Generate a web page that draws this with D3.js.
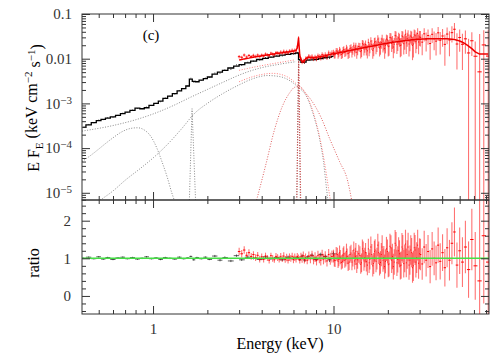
<!DOCTYPE html>
<html>
<head>
<meta charset="utf-8">
<script src="https://cdn.jsdelivr.net/npm/d3@7"></script>
<style>
  body { margin: 0; background: #fff; }
  svg { display: block; }
  text { font-family: "Liberation Serif", "DejaVu Serif", serif; }
</style>
</head>
<body>
<div id="chart"></div>
<script>
// soft instrument (black): bin centres, model, data/model ratio, ratio error
const blackE = [0.41,0.44,0.47,0.50,0.53,0.56,0.60,0.64,0.68,0.72,
  0.77,0.82,0.87,0.92,0.98,1.04,1.10,1.17,1.24,1.32,
  1.40,1.48,1.56,1.62,1.68,1.75,1.85,1.95,2.05,2.20,
  2.35,2.50,2.70,2.90,3.10,3.35,3.60,3.90,4.20,4.50,
  4.85,5.20,5.60,6.00,6.30,6.50,6.70,6.90,7.20,7.60,
  8.00,8.50,9.00,9.50,10.0];
const blackModel = [2.9e-4,3.3e-4,3.7e-4,4.1e-4,4.4e-4,4.7e-4,5.0e-4,5.4e-4,5.9e-4,6.4e-4,
  7.0e-4,7.8e-4,7.6e-4,8.0e-4,9.0e-4,1.0e-3,1.12e-3,1.3e-3,1.45e-3,1.65e-3,
  1.9e-3,2.15e-3,2.45e-3,3.5e-3,3.1e-3,3.05e-3,3.3e-3,3.6e-3,3.9e-3,4.5e-3,
  5.0e-3,5.5e-3,6.2e-3,6.8e-3,7.4e-3,8.1e-3,8.8e-3,9.6e-3,1.02e-2,1.08e-2,
  1.14e-2,1.2e-2,1.25e-2,1.3e-2,1.34e-2,9.5e-3,8.3e-3,8.4e-3,9.3e-3,9.4e-3,
  9.7e-3,1.01e-2,1.05e-2,1.09e-2,1.13e-2];
const blackRatio = [1.00,1.03,0.99,1.04,0.98,1.02,0.97,1.01,1.03,0.99,
  1.02,0.98,1.00,1.04,0.99,1.01,0.97,1.02,1.00,0.98,
  1.03,0.99,1.01,1.05,0.96,1.02,0.99,1.03,0.97,1.06,
  0.95,1.02,0.93,1.07,0.96,1.03,1.00,0.97,1.04,0.99,
  1.02,0.96,1.03,0.99,1.02,0.97,1.06,0.95,1.04,1.08,
  0.97,1.10,1.05,0.96,1.12];
const blackErr = [0.02,0.02,0.02,0.02,0.02,0.02,0.02,0.02,0.02,0.02,
  0.02,0.02,0.02,0.02,0.02,0.02,0.02,0.02,0.02,0.02,
  0.02,0.02,0.02,0.02,0.02,0.02,0.02,0.02,0.02,0.03,
  0.03,0.03,0.03,0.03,0.03,0.03,0.03,0.03,0.03,0.03,
  0.03,0.03,0.04,0.04,0.04,0.04,0.04,0.04,0.04,0.05,
  0.05,0.05,0.05,0.06,0.06];

// hard instrument (red)
const redE = [3.0,3.1,3.2,3.3,3.4,3.5,3.6,3.7,3.8,3.9,
  4.0,4.1,4.2,4.3,4.4,4.5,4.6,4.7,4.8,4.9,
  5.0,5.1,5.2,5.3,5.4,5.5,5.6,5.7,5.8,5.9,
  6.0,6.1,6.2,6.3,6.4,6.5,6.6,6.7,6.8,6.9,
  7.0,7.15,7.3,7.45,7.6,7.75,7.9,8.05,8.2,8.35,
  8.5,8.65,8.8,9.0,9.2,9.4,9.6,9.8,
  10.0,10.1,10.2,10.35,10.5,10.6,10.7,10.8,10.9,11.05,11.2,11.3,11.4,11.55,11.7,11.8,11.9,12.05,12.2,12.35,
  12.5,12.65,12.8,12.95,13.1,13.2,13.3,13.45,13.6,13.8,14.0,14.15,14.3,14.45,14.6,14.75,14.9,15.05,15.2,15.4,
  15.6,15.75,15.9,16.1,16.3,16.5,16.7,16.85,17.0,17.2,17.4,17.6,17.8,18.0,18.2,18.4,18.6,18.8,19.0,19.2,
  19.4,19.65,19.9,20.1,20.3,20.55,20.8,21.0,21.2,21.45,21.7,21.95,22.2,22.45,22.7,22.95,23.2,23.45,23.7,23.95,
  24.2,24.5,24.8,25.05,25.3,25.6,25.9,26.2,26.5,26.8,27.1,27.4,27.7,28.0,28.3,28.6,28.9,29.25,29.6,29.95,
  30.3,31.0,31.8,32.6,33.4,34.3,35.2,36.1,37.0,38.0,
  39.0,40.2,41.4,42.6,43.9,45.3,46.8,48.3,50.0,51.8,
  53.8,56.0,58.4,61.0,64.5,68.0,72.0];
const redModel = [.0094,.0096,.0099,.0101,.0103,.0106,.0108,.0110,.0112,.0114,
  .0116,.0118,.0120,.0121,.0123,.0125,.0127,.0128,.0130,.0132,
  .0133,.0135,.0136,.0138,.0139,.0141,.0142,.0144,.0145,.0147,
  .0148,.0150,.0153,.0175,.0290,.0120,.0095,.0085,.0085,.0091,
  .0099,.0107,.0108,.0106,.0105,.0105,.0106,.0108,.0109,.0111,
  .0112,.0114,.0115,.0117,.0120,.0122,.0124,.0127,
  .0129,.0130,.0131,.0133,.0134,.0135,.0136,.0137,.0138,.0140,.0141,.0142,.0143,.0145,.0146,.0147,.0148,.0150,.0151,.0153,
  .0154,.0156,.0157,.0159,.0160,.0161,.0162,.0164,.0165,.0167,.0169,.0171,.0172,.0174,.0175,.0177,.0178,.0180,.0181,.0183,
  .0185,.0187,.0188,.0190,.0191,.0193,.0195,.0197,.0198,.0200,.0201,.0203,.0205,.0207,.0208,.0210,.0212,.0214,.0215,.0217,
  .0218,.0220,.0222,.0224,.0225,.0227,.0229,.0231,.0232,.0234,.0235,.0237,.0238,.0240,.0241,.0243,.0244,.0246,.0247,.0249,
  .0250,.0252,.0253,.0255,.0256,.0258,.0259,.0260,.0261,.0263,.0264,.0265,.0266,.0267,.0268,.0269,.0270,.0271,.0272,.0273,
  .0274,.0276,.0277,.0278,.0279,.0280,.0281,.0281,.0281,.0281,
  .0281,.0280,.0279,.0278,.0276,.0273,.0268,.0260,.0248,.0233,
  .0214,.0192,.0168,.0142,.0127,.0127,.0127];
const redRatio = [1.18,1.12,1.22,1.08,1.15,1.05,1.10,1.02,1.08,0.98,
  1.04,0.97,1.06,1.01,0.95,1.07,1.00,0.96,1.05,1.02,
  0.98,1.04,0.99,1.06,0.97,1.02,0.95,1.03,1.00,1.05,
  0.97,1.03,0.98,1.05,1.02,0.96,1.04,0.99,1.07,0.97,
  1.02,0.95,1.06,0.99,1.08,0.96,1.03,0.94,1.07,1.00,
  0.95,1.09,0.98,1.04,0.93,1.10,0.99,1.05,
  1.06,0.95,0.94,1.12,1.10,0.92,0.97,1.15,1.03,0.89,0.92,1.08,1.12,0.95,0.98,1.18,1.05,0.87,0.90,1.10,
  1.14,0.90,1.00,1.22,0.93,1.05,1.18,0.85,0.96,1.12,1.08,0.84,0.88,1.25,1.20,0.93,1.02,1.15,0.91,0.82,
  1.25,0.88,0.97,1.30,1.10,0.80,0.86,1.18,1.22,0.92,0.99,1.35,1.15,0.84,0.89,1.10,1.30,0.95,1.02,0.78,
  0.92,1.25,1.18,0.83,0.85,1.32,1.28,0.95,1.05,0.78,0.90,1.40,1.35,0.88,0.97,1.20,1.12,0.80,0.82,1.30,
  1.25,0.86,1.00,1.38,0.88,1.10,1.30,0.82,0.95,1.22,1.15,0.75,0.80,1.28,1.22,0.90,1.02,1.35,0.87,1.12,
  1.10,0.85,1.30,0.95,1.18,0.78,1.25,1.00,0.88,1.35,
  0.92,1.15,0.75,1.28,0.95,1.40,1.70,0.82,1.20,0.90,
  1.30,0.70,1.50,0.80,0.40,1.60,0.90];
const redErr = [.10,.10,.10,.09,.09,.09,.09,.09,.09,.09,
  .09,.08,.09,.08,.09,.08,.09,.08,.09,.09,
  .09,.10,.09,.10,.09,.10,.09,.10,.09,.10,
  .10,.10,.09,.09,.08,.10,.11,.11,.11,.11,
  .11,.11,.12,.12,.12,.12,.13,.13,.13,.13,
  .14,.14,.14,.15,.15,.15,.16,.16,
  .17,.17,.17,.18,.18,.18,.18,.19,.19,.19,.19,.20,.20,.20,.20,.21,.21,.21,.21,.22,
  .22,.22,.22,.23,.23,.23,.23,.24,.24,.24,.24,.25,.25,.25,.25,.26,.26,.26,.26,.27,
  .27,.27,.27,.28,.28,.28,.28,.29,.29,.29,.29,.30,.30,.30,.30,.31,.31,.31,.31,.32,
  .32,.32,.32,.33,.33,.33,.33,.34,.34,.34,.34,.35,.35,.35,.35,.36,.36,.36,.36,.37,
  .37,.37,.37,.38,.38,.38,.38,.39,.39,.39,.39,.40,.40,.40,.40,.41,.41,.41,.41,.41,
  .42,.42,.43,.43,.44,.44,.45,.45,.46,.47,
  .48,.49,.50,.52,.54,.56,.65,.60,.62,.66,
  .70,.75,.82,.90,2.40,1.80,2.60];

// model components [keV, E F_E]
const compCont = [[0.404,2.4e-4],[0.6,3.2e-4],[0.8,4.3e-4],[1.0,5.8e-4],[1.3,9.0e-4],[1.6,1.35e-3],[2.0,2.05e-3],[2.5,3.1e-3],[3.0,4.3e-3],[3.5,5.4e-3],[4.0,6.3e-3],[5.0,7.5e-3],[6.2,8.6e-3]];
const compSoft = [[0.404,5.0e-5],[0.45,6.8e-5],[0.5,9.5e-5],[0.55,1.3e-4],[0.6,1.7e-4],[0.67,2.3e-4],[0.75,2.75e-4],[0.82,2.85e-4],[0.9,2.5e-4],[0.97,1.85e-4],[1.05,1.0e-4],[1.12,5.0e-5],[1.2,2.2e-5],[1.27,1.0e-5],[1.31,6.9e-6]];
const compHard = [[0.51,6.9e-6],[0.6,1.1e-5],[0.7,1.9e-5],[0.85,3.5e-5],[1.0,6.0e-5],[1.2,1.2e-4],[1.45,2.8e-4],[1.7,6.0e-4],[2.0,1.0e-3],[2.4,1.6e-3],[3.0,2.6e-3],[3.6,3.6e-3],[4.3,4.2e-3],[5.0,4.0e-3],[5.6,3.4e-3],[6.3,2.4e-3],[7.1,1.4e-3],[7.8,5.0e-4],[8.4,1.5e-4],[8.8,5.0e-5],[9.1,1.5e-5],[9.3,6.9e-6]];
const compSiLine = [[1.59,6.9e-6],[1.645,7.6e-4],[1.72,6.9e-6]];
const compFeLine = [[6.25,6.9e-6],[6.4,9.0e-3],[6.55,6.9e-6]];
const redCont = [[3.0,5.5e-3],[3.5,6.3e-3],[4.0,7.0e-3],[5.0,8.2e-3],[6.1,9.4e-3]];
const redHard = [[3.0,3.05e-3],[3.6,4.0e-3],[4.6,4.7e-3],[5.5,4.0e-3],[6.3,2.6e-3],[7.1,1.5e-3],[7.8,5.5e-4],[8.4,1.7e-4],[8.9,5.0e-5],[9.4,1.2e-5],[9.6,6.9e-6]];
const redGauss = [[3.75,6.9e-6],[4.2,4.0e-5],[4.7,2.5e-4],[5.2,8.5e-4],[5.7,1.7e-3],[6.1,2.3e-3],[6.5,2.4e-3],[7.0,1.7e-3],[7.4,1.3e-3],[8.5,5.0e-4],[9.6,1.5e-4],[10.8,5.0e-5],[12.0,1.8e-5],[12.6,6.9e-6]];
const redFeLine = [[6.27,6.9e-6],[6.42,1.1e-2],[6.58,6.9e-6]];

const xMajor = [1, 10];
const yMajor = [1e-5, 1e-4, 1e-3, 0.01, 0.1];
const ratioMajor = [0, 1, 2];

const width = 491, height = 356;
const L = 82, R = 489, T = 14, M = 200, B = 314;

const svg = d3.select('#chart').append('svg')
  .attr('width', width).attr('height', height);

const x = d3.scaleLog().domain([0.404, 72.7]).range([L, R]);
const yTop = d3.scaleLog().domain([6.9e-6, 0.1]).range([M, T]);
const yRat = d3.scaleLinear().domain([-0.48, 2.55]).range([B, M]);

const defs = svg.append('defs');
defs.append('clipPath').attr('id', 'clipTop').append('rect')
  .attr('x', L).attr('y', T).attr('width', R - L).attr('height', M - T);
defs.append('clipPath').attr('id', 'clipBot').append('rect')
  .attr('x', L).attr('y', M).attr('width', R - L).attr('height', B - M);

function edges(E) {
  return E.map((e, i) => {
    const lo = i > 0 ? Math.sqrt(E[i - 1] * e) : e * e / Math.sqrt(e * E[i + 1]);
    const hi = i < E.length - 1 ? Math.sqrt(e * E[i + 1]) : e * e / Math.sqrt(E[i - 1] * e);
    return [lo, hi];
  });
}
const redEdge = edges(redE), blackEdge = edges(blackE);
const red = redE.map((e, i) => ({ e, m: redModel[i], r: redRatio[i], s: redErr[i], lo: redEdge[i][0], hi: redEdge[i][1] }));
const black = blackE.map((e, i) => ({ e, m: blackModel[i], r: blackRatio[i], s: blackErr[i], lo: blackEdge[i][0], hi: blackEdge[i][1] }));

const gTop = svg.append('g').attr('clip-path', 'url(#clipTop)');
const gBot = svg.append('g').attr('clip-path', 'url(#clipBot)');

// dotted model components
const compLine = d3.line().x(d => x(d[0])).y(d => yTop(d[1])).curve(d3.curveMonotoneX);
const sharpLine = d3.line().x(d => x(d[0])).y(d => yTop(d[1]));
[[compCont, '#8a8a8a', compLine], [compSoft, '#8a8a8a', compLine], [compHard, '#8a8a8a', compLine],
 [compSiLine, '#8a8a8a', sharpLine], [compFeLine, '#8a6060', sharpLine],
 [redCont, '#ff8080', compLine], [redHard, '#ff8080', compLine], [redGauss, '#e06060', compLine],
 [redFeLine, '#d04040', sharpLine]]
  .forEach(([d, c, gen]) => {
    gTop.append('path').attr('d', gen(d)).attr('fill', 'none')
      .attr('stroke', c).attr('stroke-width', 1).attr('stroke-dasharray', '1,1.6');
  });

// black spectrum
const lowY = v => v > 6.9e-6 ? yTop(v) : M + 5;
gTop.append('g').selectAll('line').data(black).join('line')
  .attr('x1', d => x(d.e)).attr('x2', d => x(d.e))
  .attr('y1', d => yTop(d.m * (d.r + d.s))).attr('y2', d => lowY(d.m * (d.r - d.s)))
  .attr('stroke', '#222').attr('stroke-width', 0.8);
gTop.append('path')
  .attr('d', d3.line().x(d => x(d.e)).y(d => yTop(d.m)).curve(d3.curveStep)(black))
  .attr('fill', 'none').attr('stroke', '#000').attr('stroke-width', 1.3);

// red spectrum
gTop.append('g').selectAll('line').data(red).join('line')
  .attr('x1', d => x(d.e)).attr('x2', d => x(d.e))
  .attr('y1', d => yTop(d.m * (d.r + d.s))).attr('y2', d => lowY(d.m * (d.r - d.s)))
  .attr('stroke', '#ff0000').attr('stroke-opacity', 0.55).attr('stroke-width', 1.1);
gTop.append('g').selectAll('line').data(red).join('line')
  .attr('x1', d => x(d.lo)).attr('x2', d => x(d.hi))
  .attr('y1', d => yTop(d.m * d.r)).attr('y2', d => yTop(d.m * d.r))
  .attr('stroke', '#ff0000').attr('stroke-width', 1);
gTop.append('path')
  .attr('d', d3.line().x(d => x(d.e)).y(d => yTop(d.m))(red))
  .attr('fill', 'none').attr('stroke', '#ee0000').attr('stroke-width', 1.5);

// ratio panel
gBot.append('g').selectAll('line').data(black).join('line')
  .attr('x1', d => x(d.e)).attr('x2', d => x(d.e))
  .attr('y1', d => yRat(d.r + d.s)).attr('y2', d => yRat(d.r - d.s))
  .attr('stroke', '#333').attr('stroke-width', 0.8);
gBot.append('g').selectAll('line').data(black).join('line')
  .attr('x1', d => x(d.lo)).attr('x2', d => x(d.hi))
  .attr('y1', d => yRat(d.r)).attr('y2', d => yRat(d.r))
  .attr('stroke', '#333').attr('stroke-width', 0.8);
gBot.append('g').selectAll('line').data(red).join('line')
  .attr('x1', d => x(d.e)).attr('x2', d => x(d.e))
  .attr('y1', d => yRat(d.r + d.s)).attr('y2', d => yRat(d.r - d.s))
  .attr('stroke', '#ff0000').attr('stroke-opacity', 0.55).attr('stroke-width', 1.1);
gBot.append('g').selectAll('line').data(red).join('line')
  .attr('x1', d => x(d.lo)).attr('x2', d => x(d.hi))
  .attr('y1', d => yRat(d.r)).attr('y2', d => yRat(d.r))
  .attr('stroke', '#ff0000').attr('stroke-width', 1);
gBot.append('line')
  .attr('x1', L).attr('x2', R).attr('y1', yRat(1)).attr('y2', yRat(1))
  .attr('stroke', '#44e044').attr('stroke-width', 1.5);

// axes: ticks pointing inward on all sides
const xMinor = x.ticks().filter(v => !xMajor.includes(v));
const yMinor = yTop.ticks().filter(v => !yMajor.some(m => Math.abs(m - v) / m < 1e-6));
const rMinor = yRat.ticks(15).filter(v => !ratioMajor.includes(v));
const axisColor = '#333';

function addAxis(gen, tx, ty) {
  const g = svg.append('g').attr('transform', `translate(${tx},${ty})`).call(gen);
  g.select('.domain').remove();
  g.attr('color', axisColor).attr('font-family', '"Liberation Serif", serif').attr('font-size', 15);
  return g;
}
const blank = () => '';
[T, M].forEach(yy => {
  addAxis(d3.axisBottom(x).tickValues(xMinor).tickSize(4).tickFormat(blank), 0, yy);
  addAxis(d3.axisBottom(x).tickValues(xMajor).tickSize(8).tickFormat(blank), 0, yy);
});
[M, B].forEach(yy => {
  addAxis(d3.axisTop(x).tickValues(xMinor).tickSize(4).tickFormat(blank), 0, yy);
  addAxis(d3.axisTop(x).tickValues(xMajor).tickSize(8).tickFormat(blank), 0, yy);
});
addAxis(d3.axisBottom(x).tickValues(xMajor).tickSize(0).tickPadding(9).tickFormat(d3.format('d')), 0, B);

addAxis(d3.axisRight(yTop).tickValues(yMinor).tickSize(4).tickFormat(blank), L, 0);
addAxis(d3.axisLeft(yTop).tickValues(yMinor).tickSize(4).tickFormat(blank), R, 0);
addAxis(d3.axisLeft(yTop).tickValues(yMajor).tickSize(8).tickFormat(blank), R, 0);
const yLab = addAxis(d3.axisLeft(yTop).tickValues(yMajor).tickSize(-8).tickPadding(10)
  .tickFormat(d => d >= 0.01 ? String(+d.toPrecision(1)) : '10'), L, 0);
yLab.selectAll('.tick text').each(function (d) {
  if (d < 0.005) {
    d3.select(this).append('tspan').attr('dy', '-0.45em').attr('font-size', 11)
      .text('\u2212' + Math.round(-Math.log10(d)));
  }
});

addAxis(d3.axisRight(yRat).tickValues(rMinor).tickSize(4).tickFormat(blank), L, 0);
addAxis(d3.axisLeft(yRat).tickValues(rMinor).tickSize(4).tickFormat(blank), R, 0);
addAxis(d3.axisLeft(yRat).tickValues(ratioMajor).tickSize(8).tickFormat(blank), R, 0);
addAxis(d3.axisLeft(yRat).tickValues(ratioMajor).tickSize(-8).tickPadding(11).tickFormat(d3.format('d')), L, 0);

// frames
svg.append('rect').attr('x', L).attr('y', T).attr('width', R - L).attr('height', M - T)
  .attr('fill', 'none').attr('stroke', axisColor).attr('stroke-width', 1);
svg.append('rect').attr('x', L).attr('y', M).attr('width', R - L).attr('height', B - M)
  .attr('fill', 'none').attr('stroke', axisColor).attr('stroke-width', 1);

// titles
svg.append('text').attr('x', 280).attr('y', 349).attr('text-anchor', 'middle')
  .attr('font-size', 16).text('Energy (keV)');
svg.append('text').attr('transform', 'translate(39,263) rotate(-90)').attr('text-anchor', 'middle')
  .attr('font-size', 16).text('ratio');
const yt = svg.append('text').attr('transform', 'translate(39,108) rotate(-90)')
  .attr('text-anchor', 'middle').attr('font-size', 16);
yt.append('tspan').text('E F');
yt.append('tspan').attr('font-size', 11).attr('dy', '0.35em').text('E');
yt.append('tspan').attr('dy', '-0.35em').text(' (keV cm');
yt.append('tspan').attr('font-size', 11).attr('dy', '-0.45em').text('\u22122');
yt.append('tspan').attr('dy', '0.45em').text(' s');
yt.append('tspan').attr('font-size', 11).attr('dy', '-0.45em').text('\u22121');
yt.append('tspan').attr('dy', '0.45em').text(')');
svg.append('text').attr('x', 151).attr('y', 40).attr('text-anchor', 'middle')
  .attr('font-size', 15).text('(c)');
</script>
</body>
</html>
